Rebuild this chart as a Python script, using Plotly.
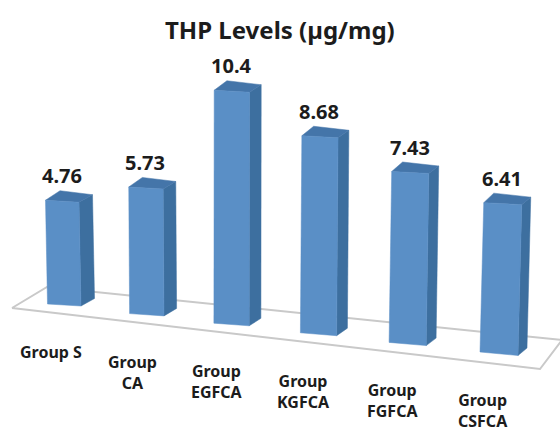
import plotly.graph_objects as go

categories = ["Group S", "Group<br>CA", "Group<br>EGFCA", "Group<br>KGFCA", "Group<br>FGFCA", "Group<br>CSFCA"]
values = [4.76, 5.73, 10.4, 8.68, 7.43, 6.41]
value_labels = ["4.76", "5.73", "10.4", "8.68", "7.43", "6.41"]
title = "THP Levels (µg/mg)"

W, H = 560, 431
FRONT, SIDE, TOP = "#5a8fc6", "#3d6f9f", "#4475a9"
FLOOR = "#c9c9c9"
TXT = "#1c1c1c"
FONT = "Noto Sans"


# Oblique projection of the pseudo-3D chart onto the flat axes
def project(i, v):
    bx = 47.5 + 81 * i + 1.1 * i * i          # front-left foot of the column
    w = 33.5 + 0.9 * i                        # front face width
    by = H - (304 + 9.6 * i)                  # foot height on the tilted floor
    h = v * (21.8 + 0.3 * i)                  # column height
    lean = -2 + 1.15 * i                      # vanishing-point lean
    dx, dy = 13.5 - 0.9 * i, 7.5              # depth offset
    foot = 2 + 0.3 * i
    return bx, w, by, h, lean, dx, dy, foot


def poly(fig, xs, ys, color):
    fig.add_trace(go.Scatter(x=xs + xs[:1], y=ys + ys[:1], mode="lines", fill="toself",
                             fillcolor=color, line=dict(color=color, width=0.5),
                             hoverinfo="skip", showlegend=False))


fig = go.Figure()

# floor outline
floor_x = [12, 540, 562, 47]
floor_y = [H - 308, H - 369, H - 340, H - 287]
fig.add_trace(go.Scatter(x=floor_x + floor_x[:1], y=floor_y + floor_y[:1], mode="lines",
                         line=dict(color=FLOOR, width=2), hoverinfo="skip", showlegend=False))

annotations = []
for i, v in enumerate(values):
    bx, w, by, h, lean, dx, dy, foot = project(i, v)
    tx = bx + lean
    ty = by + h
    # side face
    poly(fig, [bx + w, bx + w + dx, tx + w + dx, tx + w],
         [by - foot, by - foot + dy, ty - 2 + dy, ty - 2], SIDE)
    # top face
    poly(fig, [tx, tx + w, tx + w + dx, tx + dx + 1],
         [ty, ty - 2, ty - 2 + dy, ty + dy + 2], TOP)
    # front face
    poly(fig, [bx, bx + w, tx + w, tx], [by, by - foot, ty - 2, ty], FRONT)

    annotations.append(dict(x=tx + w / 2 - 0.5, y=ty + 24.5, text=value_labels[i], xref="x", yref="y",
                            showarrow=False, xanchor="center", yanchor="middle",
                            font=dict(family=FONT, size=20, color=TXT, weight="bold")))
    two_lines = "<br>" in categories[i]
    annotations.append(dict(x=bx + 3, y=by - (58.5 if two_lines else 48), text=categories[i],
                            xref="x", yref="y", showarrow=False, xanchor="center", yanchor="middle",
                            font=dict(family=FONT, size=16, color=TXT, weight="bold")))

annotations.append(dict(x=280, y=H - 29, text=title, xref="x", yref="y", showarrow=False,
                        xanchor="center", yanchor="middle",
                        font=dict(family=FONT, size=24, color=TXT, weight="bold")))

fig.update_layout(
    width=W, height=H, margin=dict(l=0, r=0, t=0, b=0),
    paper_bgcolor="white", plot_bgcolor="white",
    xaxis=dict(range=[0, W], visible=False, fixedrange=True),
    yaxis=dict(range=[0, H], visible=False, fixedrange=True),
    annotations=annotations, showlegend=False,
)
fig.write_html("out.html", config=dict(displayModeBar=False),
               post_script="document.body.style.margin='0';document.body.style.overflow='hidden';")
